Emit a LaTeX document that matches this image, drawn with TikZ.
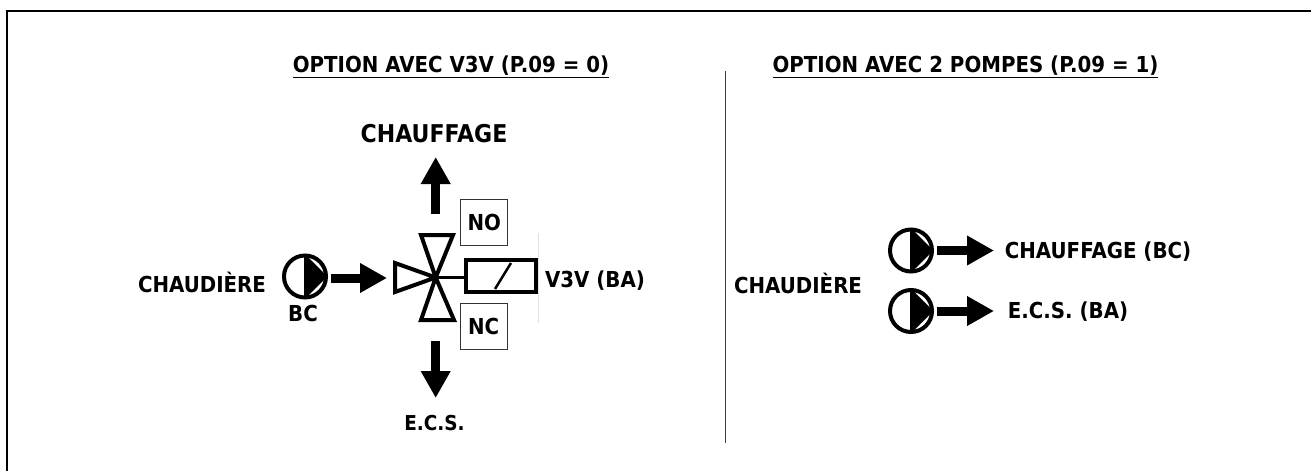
\documentclass[tikz,border=0pt]{standalone}
\usepackage{fontspec}
\setmainfont{DejaVu Sans}[BoldFeatures={FakeStretch=0.9}]
\usetikzlibrary{arrows.meta}
\tikzset{
  label/.style = {font = \fontsize{22}{26}\selectfont\bfseries, inner sep = 0pt},
  biglabel/.style = {font = \fontsize{24.5}{28}\selectfont\bfseries, inner sep = 0pt},
  titletext/.style = {font = \fontsize{22}{26}\selectfont\bfseries, inner sep = 0pt},
  portbox/.style = {draw = black!80, line width = 1pt, minimum width = 47pt, minimum height = 46pt, inner sep = 0pt, font = \fontsize{22}{26}\selectfont\bfseries},
  flow/.style = {line width = 9pt, -{Triangle[length = 27pt, width = 28pt]}},
  valveline/.style = {line width = 4pt, line join = miter},
  pump/.pic = {
    \draw [line width = 4pt, fill = white] (0,0) circle (21);
    \draw [fill = black, line width = 2pt, line join = round] (0,-21) -- (21,0) -- (0,21) -- cycle;
  }
}
\begin{document}
\begin{tikzpicture}[x = 1pt, y = -1pt]
\useasboundingbox (0,0) rectangle (1311,471);
\pgfmathsetmacro\valvex{435.7};
\pgfmathsetmacro\valvey{277.5};
\draw [line width = 2.5pt] (7,471) -- (7,11) -- (1311,11);
\draw [line width = 1.2pt, draw = black!75] (725.7,71) -- (725.7,443);
\node [titletext] (titlevalve) at (451,67) {\underline{OPTION AVEC V3V (P.09 = 0)}};
\node [titletext] (titlepumps) at (965.5,67) {\underline{OPTION AVEC 2 POMPES (P.09 = 1)}};
% left side
\coordinate (valve) at (\valvex,\valvey);
\draw [valveline] (valve) -- (395,263) -- (395,292) -- cycle;
\draw [valveline] (valve) -- (421,235) -- (453,235) -- cycle;
\draw [valveline] (valve) -- (421,320) -- (454,320) -- cycle;
\draw [draw = black!12, line width = 1pt] (538.5,233) -- (538.5,323);
\draw [line width = 4pt] (466,260) rectangle (536,292);
\coordinate (coil) at (466,\valvey);
\draw [line width = 2.5pt] (valve) -- (coil);
\draw [line width = 2.5pt] (495,289) -- (511,263);
\node [portbox] (portno) at (484.3,222) {NO};
\node [portbox] (portnc) at (483.7,326.5) {NC};
\pic at (305,276.5) {pump};
\coordinate (pumpbc) at (331,278);
\coordinate (inlet) at (387,278);
\draw [flow] (pumpbc) -- (inlet);
\coordinate (upstart) at (\valvex,214);
\coordinate (upend) at (\valvex,157);
\draw [flow] (upstart) -- (upend);
\coordinate (downstart) at (\valvex,341);
\coordinate (downend) at (\valvex,398);
\draw [flow] (downstart) -- (downend);
\node [biglabel] (chauffage) at (434,134) {CHAUFFAGE};
\node [label, font = \fontsize{20.5}{24}\selectfont\bfseries] (ecs) at (434.5,423) {E.C.S.};
\node [label] (chaudiere) at (202,282) {CHAUDIÈRE};
\node [label] (bc) at (303,313) {BC};
\node [label] (v3v) at (595,281) {V3V (BA)};
% right side
\node [label] (chaudieredeux) at (798,283) {CHAUDIÈRE};
\foreach \y/\name in {250.5/a,311/b} {
  \pic at (911,\y) {pump};
  \coordinate (start\name) at (937,\y);
  \coordinate (end\name) at (994,\y);
  \draw [flow] (start\name) -- (end\name);
}
\node [label] (chauffagebc) at (1098,252) {CHAUFFAGE (BC)};
\node [label] (ecsba) at (1068,312) {E.C.S. (BA)};
\end{tikzpicture}
\end{document}
